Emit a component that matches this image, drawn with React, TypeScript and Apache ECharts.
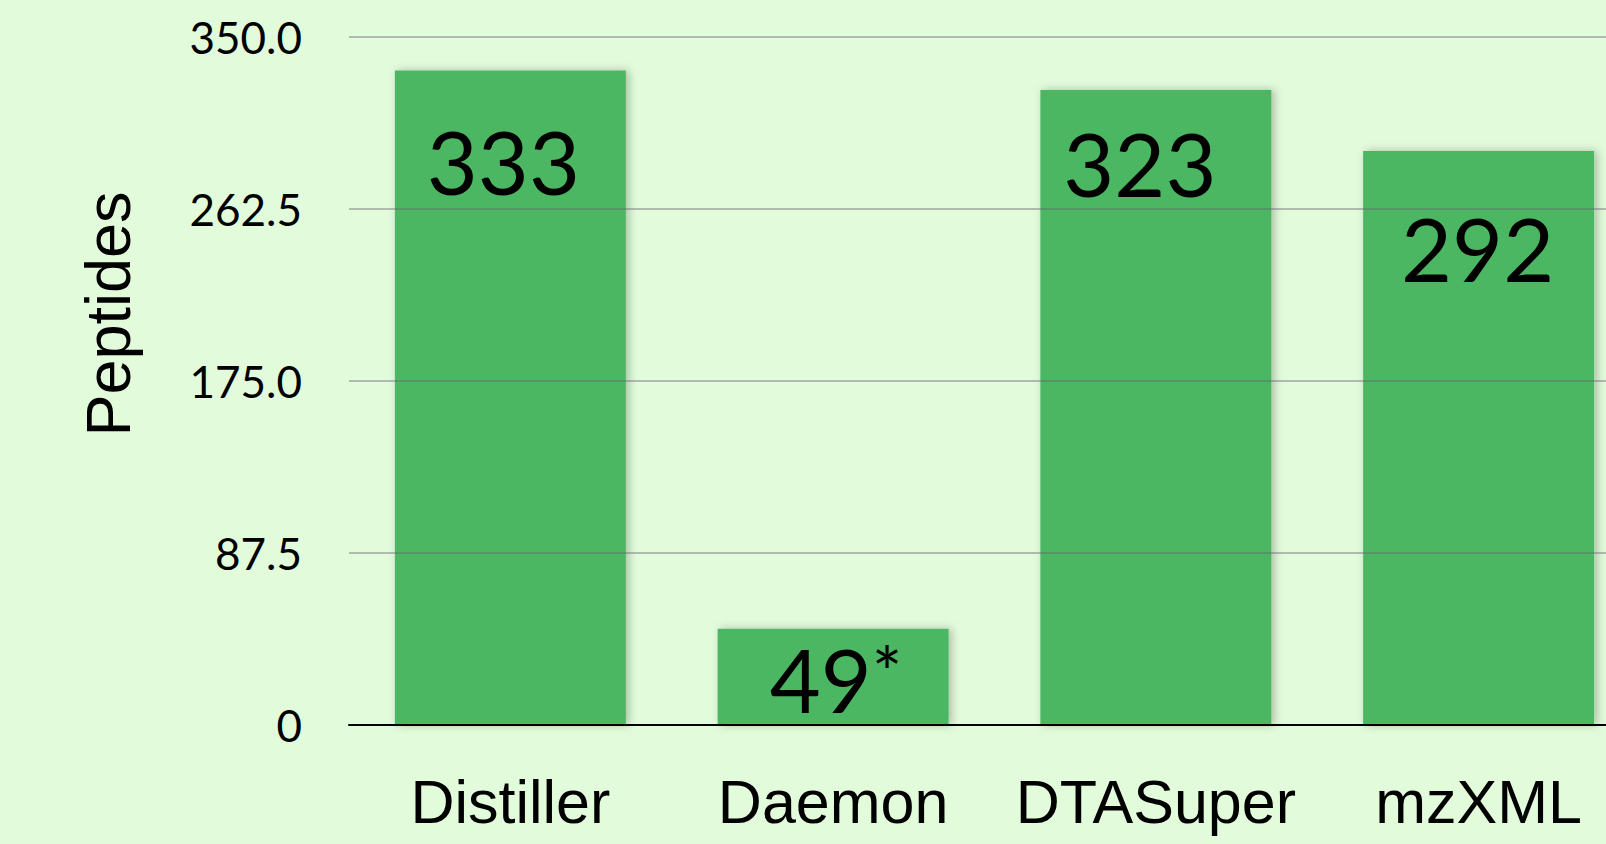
import React, { useEffect, useRef } from "react";
import * as echarts from "echarts";

const categories = ["Distiller", "Daemon", "DTASuper", "mzXML"];
const peptides = [333, 49, 323, 292];
const valueLabels = ["333", "{n|49}{s|*}", "323", "292"];
const yTicks = [0, 87.5, 175, 262.5, 350];

// label layout inside each bar: [dx from bar centre, dy from bar top]
const labelLayout = [
  [-7, 91],
  [3, 50],
  [-16, 73],
  [-1, 97],
];

export default function App() {
  const ref = useRef<HTMLDivElement>(null);
  useEffect(() => {
    if (!ref.current) return;
    const chart = echarts.init(ref.current, null, { renderer: "svg" });
    const data = peptides.map((v, i) => ({
      value: v,
      label: {
        show: true,
        position: ["50%", labelLayout[i][1]],
        offset: [labelLayout[i][0], 0],
        align: "center",
        verticalAlign: "middle",
        formatter: valueLabels[i],
        fontFamily: "Lato",
        fontSize: 88,
        color: "#000",
        rich: {
          n: { fontFamily: "Lato", fontSize: 88, lineHeight: 88, color: "#000" },
          s: {
            fontFamily: "Lato",
            fontSize: 72,
            color: "#000",
            verticalAlign: "top",
            lineHeight: 48,
          },
        },
      },
    }));
    chart.setOption({
      animation: false,
      backgroundColor: "#e2fbdb",
      grid: { left: 349, top: 37, width: 1291, height: 688 },
      xAxis: {
        type: "category",
        data: categories,
        axisTick: { show: false },
        axisLine: { show: true, lineStyle: { color: "#000", width: 2 } },
        axisLabel: {
          interval: 0,
          hideOverlap: false,
          margin: 46,
          fontFamily: "Liberation Sans, Arial, sans-serif",
          fontSize: 61,
          color: "#000",
        },
        z: 4,
      },
      yAxis: {
        type: "value",
        min: yTicks[0],
        max: yTicks[yTicks.length - 1],
        interval: yTicks[1] - yTicks[0],
        axisLine: { show: false },
        axisTick: { show: false },
        axisLabel: {
          margin: 47,
          fontFamily: "Lato",
          fontSize: 44,
          color: "#000",
          formatter: (v: number) => (v === 0 ? "0" : v.toFixed(1)),
        },
        splitLine: { lineStyle: { color: "rgba(100,95,105,0.4)", width: 2 } },
        z: 3,
      },
      series: [
        {
          type: "bar",
          data,
          barWidth: 231,
          itemStyle: {
            color: "#4cb764",
            shadowBlur: 8,
            shadowColor: "rgba(0,0,0,0.25)",
            shadowOffsetX: 3,
            shadowOffsetY: 0,
          },
          z: 2,
        },
      ],
      graphic: [
        {
          type: "text",
          x: 108,
          y: 314,
          rotation: Math.PI / 2,
          style: {
            text: "Peptides",
            fontFamily: "Liberation Sans, Arial, sans-serif",
            fontSize: 63,
            fill: "#000",
            align: "center",
            verticalAlign: "middle",
          },
        },
      ],
    });
    return () => chart.dispose();
  }, []);
  return (
    <div
      style={{
        position: "absolute",
        left: 0,
        top: 0,
        width: 1606,
        height: 844,
        overflow: "hidden",
      }}
    >
      <div ref={ref} style={{ width: 1700, height: 844 }} />
    </div>
  );
}
